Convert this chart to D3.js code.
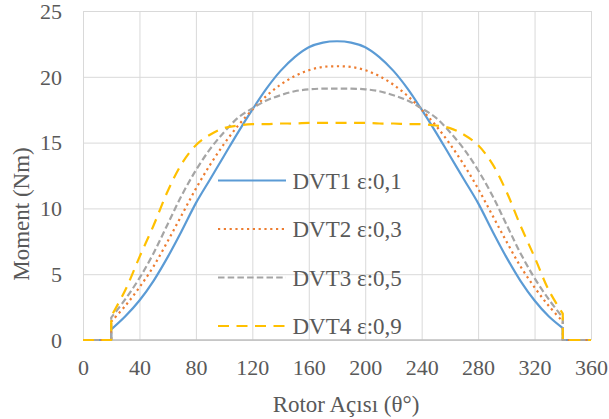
<!DOCTYPE html>
<html>
<head>
<meta charset="utf-8">
<script src="https://cdn.jsdelivr.net/npm/d3@7"></script>
<style>
  html, body { margin: 0; padding: 0; background: #fff; }
  svg { display: block; font-family: "Liberation Serif", "Times New Roman", serif; }
</style>
</head>
<body>
<svg id="chart" width="609" height="419"></svg>
<script>
// Rotor angle samples (degrees) across the conduction window
const angles = [20, 30, 40, 50, 60, 70, 80, 90, 100, 110, 120, 130, 140, 150, 160, 170, 180,
                190, 200, 210, 220, 230, 240, 250, 260, 270, 280, 290, 300, 310, 320, 330, 340];

// Torque (Nm) for each design
const dvt1 = [0.8, 1.8, 3.0, 4.5, 6.3, 8.3, 10.4, 12.2, 14.0, 15.8, 17.5, 19.1, 20.45, 21.5, 22.25, 22.6, 22.7,
              22.6, 22.25, 21.5, 20.45, 19.1, 17.5, 15.8, 14.0, 12.2, 10.4, 8.3, 6.3, 4.5, 3.0, 1.8, 0.9];
const dvt2 = [1.4, 2.6, 4.0, 5.6, 7.5, 9.5, 11.5, 13.3, 14.9, 16.3, 17.5, 18.55, 19.4, 20.05, 20.5, 20.75, 20.8,
              20.75, 20.5, 20.05, 19.4, 18.55, 17.5, 16.3, 14.9, 13.3, 11.5, 9.5, 7.5, 5.6, 4.0, 2.6, 1.4];
const dvt3 = [1.7, 3.1, 4.7, 6.6, 8.8, 11.0, 12.9, 14.5, 15.8, 16.9, 17.6, 18.2, 18.6, 18.9, 19.05, 19.1, 19.1,
              19.1, 19.05, 18.9, 18.6, 18.2, 17.6, 16.9, 15.8, 14.5, 12.9, 11.0, 8.8, 6.6, 4.7, 3.1, 1.7];
const dvt4 = [1.8, 3.8, 6.3, 8.7, 11.3, 13.4, 14.8, 15.6, 16.1, 16.3, 16.4, 16.4, 16.45, 16.45, 16.5, 16.5, 16.5,
              16.5, 16.5, 16.45, 16.45, 16.4, 16.4, 16.3, 16.1, 15.6, 14.8, 13.4, 11.3, 8.7, 6.3, 3.8, 2.0];

const seriesNames = ["DVT1 ε:0,1", "DVT2 ε:0,3", "DVT3 ε:0,5", "DVT4 ε:0,9"];
const xTicks = [0, 40, 80, 120, 160, 200, 240, 280, 320, 360];
const yTicks = [0, 5, 10, 15, 20, 25];
const xTitle = "Rotor Açısı (θ°)";
const yTitle = "Moment (Nm)";

const series = [
  { name: seriesNames[0], values: dvt1, color: "#5B9BD5", dash: null },
  { name: seriesNames[1], values: dvt2, color: "#ED7D31", dash: "2.2,3.6" },
  { name: seriesNames[2], values: dvt3, color: "#A5A5A5", dash: "6.5,3.2" },
  { name: seriesNames[3], values: dvt4, color: "#FFC000", dash: "11,7.5" }
];

const svg = d3.select("#chart");
const plot = { left: 83, right: 591, top: 11, bottom: 340 };
const textColor = "#595959";

const x = d3.scaleLinear().domain([0, 360]).range([plot.left, plot.right]);
const y = d3.scaleLinear().domain([0, 25]).range([plot.bottom, plot.top]);

// Gridlines
svg.append("g")
  .attr("transform", `translate(0,${plot.bottom})`)
  .call(d3.axisBottom(x).tickValues(xTicks).tickSize(-(plot.bottom - plot.top)).tickFormat(""))
  .call(g => g.select(".domain").remove())
  .call(g => g.selectAll("line").attr("stroke", "#D9D9D9").attr("stroke-width", 1));

svg.append("g")
  .attr("transform", `translate(${plot.left},0)`)
  .call(d3.axisLeft(y).tickValues(yTicks).tickSize(-(plot.right - plot.left)).tickFormat(""))
  .call(g => g.select(".domain").remove())
  .call(g => g.selectAll("line").attr("stroke", "#D9D9D9").attr("stroke-width", 1));

// Baseline
svg.append("line")
  .attr("x1", plot.left).attr("x2", plot.right)
  .attr("y1", y(0)).attr("y2", y(0))
  .attr("stroke", "#BFBFBF").attr("stroke-width", 1.3);

// Tick labels
svg.append("g")
  .attr("transform", `translate(0,${plot.bottom})`)
  .call(d3.axisBottom(x).tickValues(xTicks).tickSize(0).tickPadding(0))
  .call(g => g.select(".domain").remove())
  .call(g => g.selectAll("text")
    .attr("y", 35).attr("dy", null)
    .attr("fill", textColor).style("font-size", "22px")
    .style("font-family", '"Liberation Serif", serif'));

svg.append("g")
  .attr("transform", `translate(${plot.left},0)`)
  .call(d3.axisLeft(y).tickValues(yTicks).tickSize(0).tickPadding(0))
  .call(g => g.select(".domain").remove())
  .call(g => g.selectAll("text")
    .attr("x", -21).attr("dy", "0.33em")
    .attr("fill", textColor).style("font-size", "22px")
    .style("font-family", '"Liberation Serif", serif'));

// Curves: zero until the 20° step, smooth profile, zero after 340°
const curve = d3.line()
  .x((d, i) => x(angles[i]))
  .y(d => y(d))
  .curve(d3.curveCatmullRom.alpha(0.5));

function pathFor(vals) {
  const mid = curve(vals).replace(/^M/, "L");
  return `M${x(0)},${y(0)}L${x(angles[0])},${y(0)}` + mid +
         `L${x(angles[angles.length - 1])},${y(0)}L${x(360)},${y(0)}`;
}

svg.append("g").selectAll("path")
  .data(series)
  .join("path")
  .attr("d", d => pathFor(d.values))
  .attr("fill", "none")
  .attr("stroke", d => d.color)
  .attr("stroke-width", 2.2)
  .attr("stroke-dasharray", d => d.dash)
  .attr("stroke-linejoin", "round");

// Legend
const legendRows = [180.5, 229, 277.5, 326];
const legend = svg.append("g").selectAll("g")
  .data(series)
  .join("g")
  .attr("transform", (d, i) => `translate(218,${legendRows[i]})`);

legend.append("line")
  .attr("x1", 0).attr("x2", 68)
  .attr("stroke", d => d.color)
  .attr("stroke-width", 2.2)
  .attr("stroke-dasharray", d => d.dash);

legend.append("text")
  .attr("x", 74.5).attr("dy", "0.35em")
  .attr("fill", textColor)
  .style("font-size", "23px")
  .text(d => d.name);

// Axis titles
svg.append("text")
  .attr("x", 346).attr("y", 412)
  .attr("text-anchor", "middle")
  .attr("fill", textColor)
  .style("font-size", "23px")
  .text(xTitle);

svg.append("text")
  .attr("transform", `translate(29,214) rotate(-90)`)
  .attr("text-anchor", "middle")
  .attr("fill", textColor)
  .style("font-size", "23px")
  .text(yTitle);
</script>
</body>
</html>
